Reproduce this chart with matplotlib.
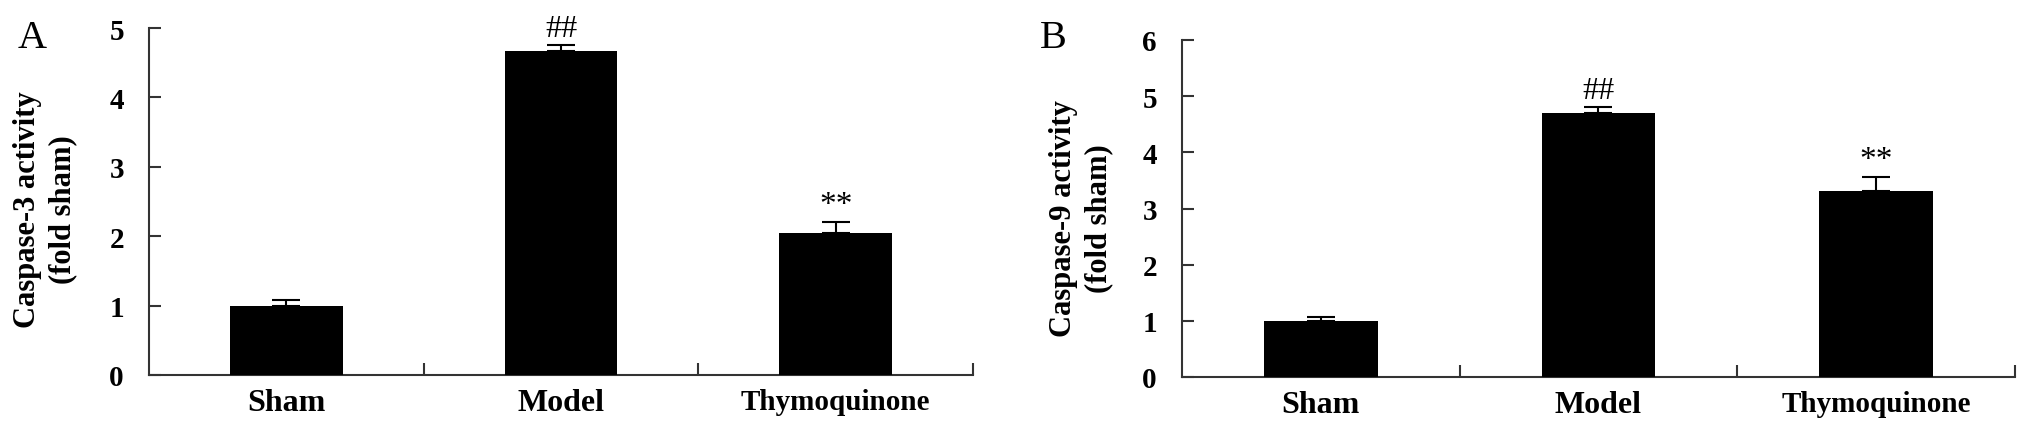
import numpy as np
import matplotlib
matplotlib.use('Agg')
import matplotlib.pyplot as plt

plt.rcParams['font.family'] = ['Liberation Serif', 'DejaVu Serif']

groups = ['Sham', 'Model', 'Thymoquinone']

casp3_mean = [1.00, 4.67, 2.05]
casp3_err = [0.08, 0.08, 0.16]
casp3_marks = ['', '##', '**']

casp9_mean = [1.00, 4.70, 3.31]
casp9_err = [0.07, 0.10, 0.25]
casp9_marks = ['', '##', '**']

W, H = 2031, 435
fig = plt.figure(figsize=(W / 100, H / 100), dpi=100)

axis_col = '#333333'


def panel(rect, means, errs, marks, ymax, ylabel, letter, letter_xy, ylab_xy):
    l, t, r, b = rect
    ax = fig.add_axes([l / W, 1 - b / H, (r - l) / W, (b - t) / H])
    x = np.arange(len(groups))
    ax.bar(x, means, width=0.41, color='black', zorder=3)
    ax.errorbar(x, means, yerr=[np.zeros(len(x)), errs], fmt='none',
                ecolor='black', elinewidth=1.5, capsize=10, capthick=1.5, zorder=2)
    for xi, m, e, s in zip(x, means, errs, marks):
        if s:
            ax.annotate(s, xy=(xi, m + e), xytext=(0, 6.5), textcoords='offset points',
                        ha='center', va='baseline', fontsize=23 if s == '##' else 24)

    ax.set_xlim(-0.5, len(groups) - 0.5)
    ax.set_ylim(0, ymax)
    ax.set_xticks(x)
    ax.set_xticklabels(groups, fontweight='bold', fontsize=23)
    ax.get_xticklabels()[2].set_fontsize(21)
    ax.set_xticks(list(x + 0.5), minor=True)
    ax.tick_params(axis='x', which='major', length=0, pad=9.5)
    ax.tick_params(axis='x', which='minor', direction='in', length=8.6, width=1.5, color=axis_col)

    ax.set_yticks(range(ymax + 1))
    ax.tick_params(axis='y', direction='in', length=8.6, width=1.5, color=axis_col,
                   pad=18, labelsize=21)
    for lbl in ax.get_yticklabels():
        lbl.set_fontweight('bold')

    for side in ['top', 'right']:
        ax.spines[side].set_visible(False)
    for side in ['left', 'bottom']:
        ax.spines[side].set_linewidth(1.5)
        ax.spines[side].set_color(axis_col)

    fig.text(ylab_xy[0] / W, 1 - ylab_xy[1] / H, ylabel, rotation=90, ha='center', va='center',
             multialignment='center', fontsize=22, fontweight='bold', linespacing=1.3)
    fig.text(letter_xy[0] / W, 1 - letter_xy[1] / H, letter, ha='left', va='baseline', fontsize=29)
    return ax


panel((149, 29, 973, 376), casp3_mean, casp3_err, casp3_marks, 5,
      'Caspase-3 activity\n(fold sham)', 'A', (18, 48), (45, 210))
panel((1182, 41, 2015, 378), casp9_mean, casp9_err, casp9_marks, 6,
      'Caspase-9 activity\n(fold sham)', 'B', (1040, 48), (1081, 219))

fig.savefig('out.png', dpi=100)
